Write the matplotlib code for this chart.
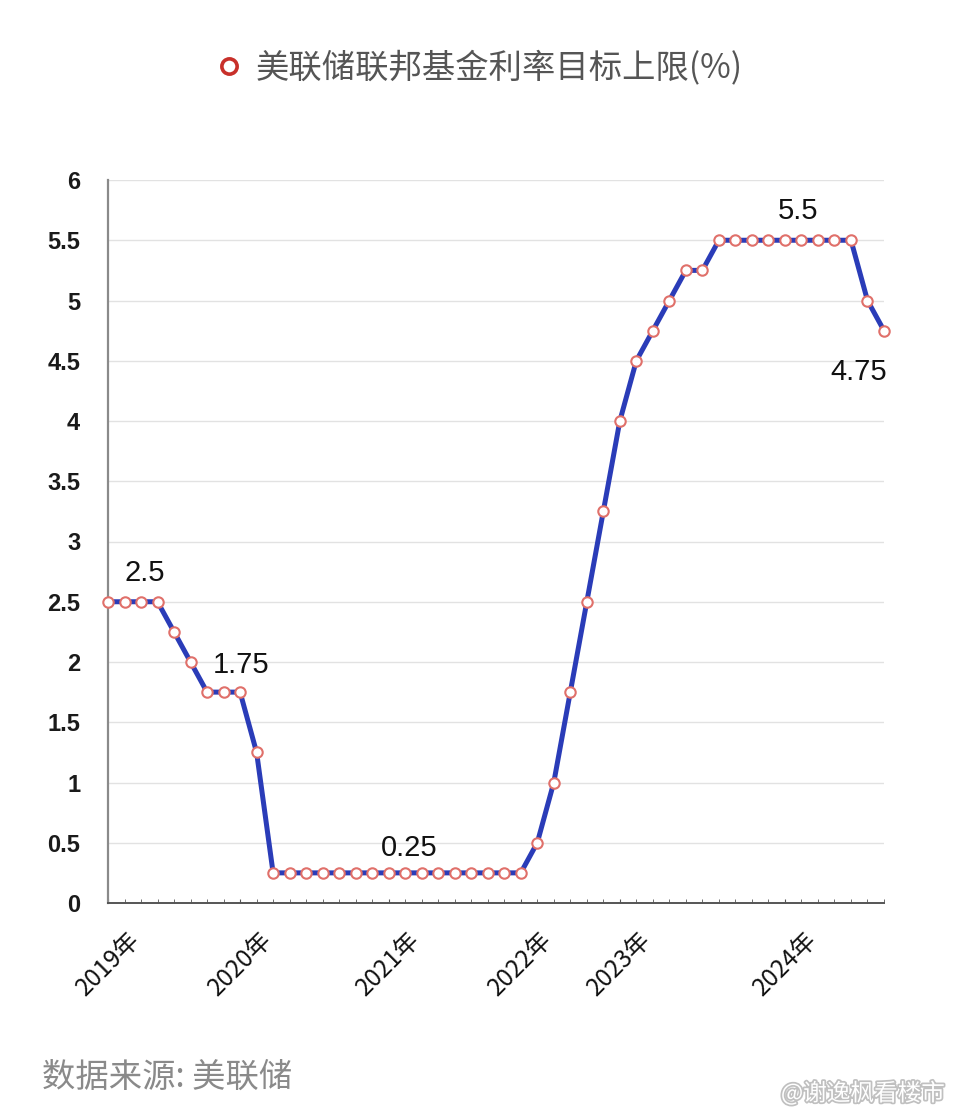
import matplotlib
matplotlib.use('Agg')
import matplotlib.pyplot as plt
import matplotlib.patheffects as pe
from matplotlib.lines import Line2D

plt.rcParams['font.family'] = ['Noto Sans CJK SC', 'DejaVu Sans']

# 每次议息会议后的利率上限 (%), 2019-2024
rates = [2.5, 2.5, 2.5, 2.5, 2.25, 2.0, 1.75, 1.75, 1.75, 1.25,
         0.25, 0.25, 0.25, 0.25, 0.25, 0.25, 0.25, 0.25,
         0.25, 0.25, 0.25, 0.25, 0.25, 0.25, 0.25, 0.25,
         0.5, 1.0, 1.75, 2.5, 3.25, 4.0, 4.5, 4.75, 5.0, 5.25, 5.25,
         5.5, 5.5, 5.5, 5.5, 5.5, 5.5, 5.5, 5.5, 5.5, 5.0, 4.75]
idx = list(range(len(rates)))

year_ticks = [0, 8, 17, 25, 31, 41]
year_labels = ['2019年', '2020年', '2021年', '2022年', '2023年', '2024年']

# 标注: (点序号, 水平偏移px, 垂直偏移px)
notes = [(2, 4, 29), (8, 1, 27), (18, 4, 25), (42, -3, 29), (47, -25, -41)]

fig = plt.figure(figsize=(9.55, 11.16), dpi=100)
ax = fig.add_axes([108 / 955, 1 - 903 / 1116, (884 - 108) / 955, (903 - 180) / 1116])

ax.plot(idx, rates, color='#2a3cb8', lw=3.6, marker='o', ms=7.5,
        mfc='white', mec='#e0706a', mew=1.5, clip_on=False, zorder=3)

ax.set_xlim(0, len(rates) - 1)
ax.set_ylim(0, 6)
ax.set_yticks([i * 0.5 for i in range(13)])
ax.set_yticklabels(['0', '0.5', '1', '1.5', '2', '2.5', '3', '3.5', '4', '4.5', '5', '5.5', '6'])
ax.grid(axis='y', color='#e2e2e2', lw=1)
ax.set_axisbelow(True)

ax.set_xticks(idx, minor=True)
ax.set_xticks(year_ticks)
ax.set_xticklabels(year_labels, rotation=45, ha='center', va='top',
                   fontsize=17.5, fontweight='medium', color='#111')
ax.tick_params(axis='x', which='both', direction='in', length=3, color='#555', pad=17)
ax.tick_params(axis='y', length=0, pad=20)
for lab in ax.get_yticklabels():
    lab.set_family(['Liberation Sans', 'DejaVu Sans'])
    lab.set_fontweight('bold')
    lab.set_fontsize(17)
    lab.set_color('#1a1a1a')

for s in ['top', 'right']:
    ax.spines[s].set_visible(False)
ax.spines['left'].set_color('#8a8a8a')
ax.spines['left'].set_linewidth(1.6)
ax.spines['bottom'].set_color('#555')
ax.spines['bottom'].set_linewidth(1.4)

for i, dx, dy in notes:
    ax.annotate(f'{rates[i]:g}', xy=(i, rates[i]), xytext=(dx, dy),
                textcoords='offset pixels', ha='center', va='center',
                fontsize=21, family=['Liberation Sans', 'DejaVu Sans'], color='#111')

# 图例当标题
h = Line2D([], [], ls='none', marker='o', ms=11, mfc='white', mec='#c8302a', mew=2.6)
fig.legend([h], ['美联储联邦基金利率目标上限(%)'], loc='center',
           bbox_to_anchor=(0.5, 1 - 68 / 1116), frameon=False,
           prop={'weight': 'medium', 'size': 24},
           handletextpad=0.3, handlelength=1.0, labelcolor='#555555')

fig.text(42 / 955, 1 - 1077 / 1116, '数据来源: 美联储', fontsize=24,
         color='#8a8a8a', ha='left', va='center')
fig.text(945 / 955, 1 - 1093 / 1116, '@谢逸枫看楼市', fontsize=17, color='white',
         ha='right', va='center',
         path_effects=[pe.withStroke(linewidth=2.5, foreground='#c0c0c0')])

fig.savefig('out.png', dpi=100)
